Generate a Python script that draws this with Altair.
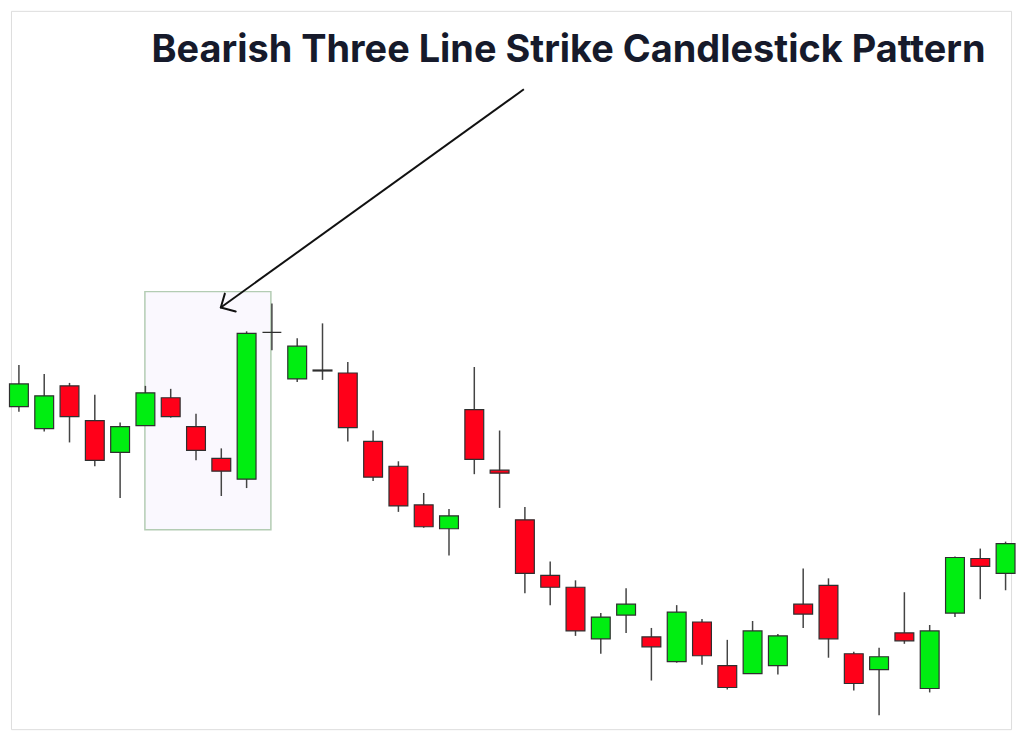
import altair as alt
import pandas as pd

# Candle data (index, open, high, low, close)
idx = list(range(40))
opens = [83, 77.5, 88.25, 79.5, 71.5, 78.25, 85.25, 78, 70, 64.75,
         101.75, 90, 92.0, 91.5, 74.25, 68, 58.25, 52.25, 82.25, 67,
         54.5, 40.5, 37.5, 24.5, 30.5, 25, 18.75, 28.75, 17.75, 15.75,
         17.75, 33.25, 38, 20.75, 16.75, 26, 12, 31, 44.75, 41]
closes = [88.75, 85.75, 80.5, 69.5, 78, 86.5, 80.5, 72, 66.75, 101.5,
          101.75, 98.25, 92.25, 77.75, 65.25, 58, 52.75, 55.5, 69.75, 66.25,
          41, 37.5, 26.5, 30, 33.25, 22.5, 31.25, 20.25, 12.25, 26.5,
          25.25, 30.75, 24.5, 13.25, 20, 24, 26.5, 45, 42.75, 48.5]
highs = [93.5, 91.25, 89, 86, 79, 88.25, 87.5, 81.25, 72.5, 102,
         109, 100.25, 104, 94.25, 77, 69.25, 61.25, 57.25, 93, 77,
         57.75, 44, 39.25, 31, 37.25, 27.25, 33, 29.5, 24.25, 29,
         25.75, 42.25, 39.75, 21.25, 22.25, 36.25, 28, 45.25, 47.25, 49]
lows = [81.75, 76.75, 74, 68, 60, 78.25, 80.25, 69.5, 60.5, 62.5,
        97.25, 89.25, 89.75, 74.25, 64.25, 56.5, 52.5, 45.5, 66, 57.5,
        36, 33, 25.25, 20.75, 26, 14, 18.5, 18, 11.75, 15.75,
        15.5, 27.25, 19.75, 11.5, 5.25, 23.25, 11, 30, 34.5, 36.75]

# Highlight box (pattern) and arrow annotation, in data units
box_x = [4.98]
box_x2 = [9.96]
box_y = [52.0]
box_y2 = [112.0]

arrow_x = [19.96]
arrow_y = [163.0]
arrow_x2 = [7.98]
arrow_y2 = [108.0]
head_x = [7.98, 7.98]
head_y = [108.0, 108.0]
head_x2 = [8.14, 8.57]
head_y2 = [111.5, 107.0]

title_text = "Bearish Three Line Strike Candlestick Pattern"

df = pd.DataFrame({"i": idx, "open": opens, "close": closes, "high": highs, "low": lows})
df["dir"] = ["up" if c >= o else "down" for o, c in zip(opens, closes)]

box_df = pd.DataFrame({"x": box_x, "x2": box_x2, "y": box_y, "y2": box_y2})
arrow_df = pd.DataFrame({"x": arrow_x, "y": arrow_y, "x2": arrow_x2, "y2": arrow_y2})
head_df = pd.DataFrame({"x": head_x, "y": head_y, "x2": head_x2, "y2": head_y2})

xs = alt.Scale(domain=[-0.3137, 39.216], nice=False, zero=False, padding=0)
ys = alt.Scale(domain=[1.75, 182.75], nice=False, zero=False, padding=0)

box = alt.Chart(box_df).mark_rect(fill="#faf8fe", stroke="#b3ccb3", strokeWidth=1.5).encode(
    x=alt.X("x:Q", scale=xs, axis=None),
    x2="x2:Q",
    y=alt.Y("y:Q", scale=ys, axis=None),
    y2="y2:Q",
)

wicks = alt.Chart(df).mark_rule(color="#444444", strokeWidth=1.5).encode(
    x=alt.X("i:Q", scale=xs, axis=None),
    y=alt.Y("low:Q", scale=ys, axis=None),
    y2="high:Q",
)

bodies = alt.Chart(df).mark_bar(size=19, stroke="#2f2f2f", strokeWidth=1.2).encode(
    x=alt.X("i:Q", scale=xs, axis=None),
    y=alt.Y("open:Q", scale=ys, axis=None),
    y2="close:Q",
    color=alt.Color("dir:N", scale=alt.Scale(domain=["up", "down"], range=["#00ee11", "#ff0019"]), legend=None),
)

arrow = alt.Chart(arrow_df).mark_rule(color="#111111", strokeWidth=2).encode(
    x=alt.X("x:Q", scale=xs, axis=None),
    y=alt.Y("y:Q", scale=ys, axis=None),
    x2="x2:Q",
    y2="y2:Q",
)

head = alt.Chart(head_df).mark_rule(color="#111111", strokeWidth=2, strokeCap="round").encode(
    x=alt.X("x:Q", scale=xs, axis=None),
    y=alt.Y("y:Q", scale=ys, axis=None),
    x2="x2:Q",
    y2="y2:Q",
)

title = alt.Chart(pd.DataFrame({"t": [title_text]})).mark_text(
    font="Inter", fontSize=38.2, fontWeight="bold", color="#161a2b", align="center", baseline="alphabetic"
).encode(
    text="t:N",
    x=alt.value(562),
    y=alt.value(52),
)

chart = alt.layer(box, wicks, bodies, arrow, head, title).properties(
    width=1008, height=724, padding=0
).configure_view(strokeWidth=0).configure(background="white")

chart.save("out.html", embed_options={"renderer": "svg", "actions": False})
